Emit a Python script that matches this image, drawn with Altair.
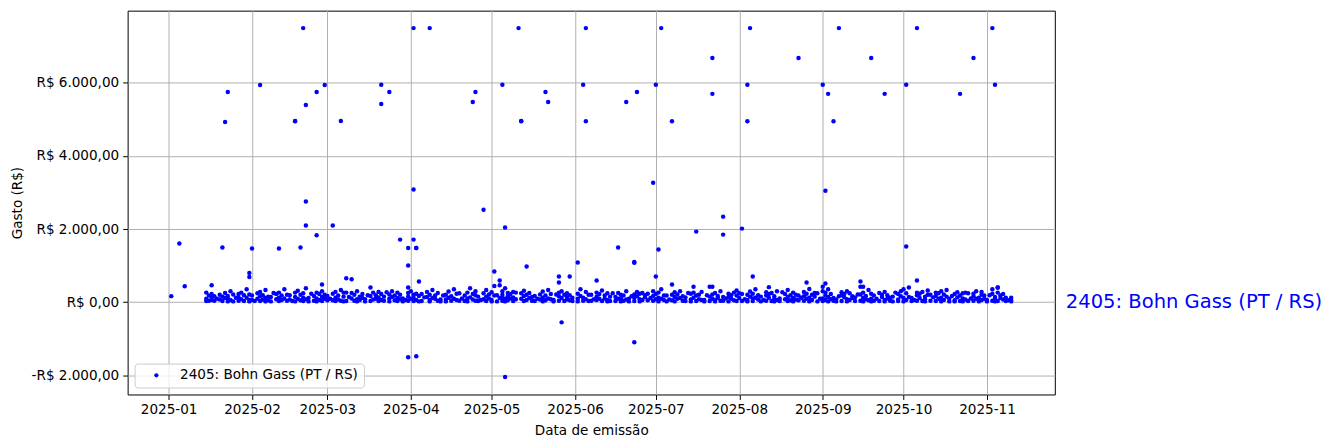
import altair as alt
import pandas as pd

SERIES = "2405: Bohn Gass (PT / RS)"

# Isolated / larger expenses: day of year (2025) and value (R$)
out_days = [2, 5, 7, 17, 21, 22, 23, 31, 31, 32, 35, 42, 48, 48, 50, 51, 52, 52, 52,
            56, 56, 58, 59, 62, 65, 67, 69, 80, 80, 83, 87, 90, 90, 90, 90, 92, 92, 92,
            93, 93, 93, 94, 98, 114, 115, 118, 122, 124, 124, 125, 126, 126, 131, 132, 132,
            134, 141, 142, 146, 146, 147, 150, 153, 155, 156, 156, 160, 168, 171, 174, 174,
            174, 175, 181, 182, 182, 183, 184, 188, 188, 196, 197, 203, 203, 203, 207, 207,
            214, 216, 216, 217, 218, 224, 235, 238, 244, 245, 245, 246, 248, 250, 258, 258,
            259, 262, 267, 275, 275, 279, 279, 295, 300, 307, 308, 309]
out_vals = [164, 1602, 437, 464, 1493, 4933, 5752, 800, 690, 1466, 5943, 1466, 4960, 4950, 1493, 7500, 2757, 2100, 5397,
            5750, 1829, 483, 5943, 2100, 4960, 655, 628, 5950, 5425, 5750, 1711, 1000, 1483, -1510, 400, 7500, 3085, 1711,
            1483, 1480, -1483, 565, 7500, 5480, 5750, 2530, 838, 592, 464, 5950, 2040, -2050, 7500, 4950, 4960,
            975, 5750, 5480, 700, 538, -554, 700, 1083, 5950, 7500, 4950, 592, 1493, 5480, 1100, 1080,
            -1100, 5750, 3267, 5950, 700, 1438, 7500, 4950, 483, 418, 1930, 6680, 5700, 418, 2340, 1848,
            2012, 5950, 4950, 7500, 700, 410, 6680, 538, 5950, 3050, 510, 5700, 4950, 7500, 565, 420,
            420, 6680, 5700, 5950, 1520, 7500, 592, 5700, 6680, 7500, 5950, 400]

# Everyday small expenses (dense band near zero), weekdays: day of year and values of that day
band_days = [15, 16, 17,
             20, 21, 22, 23, 24, 27, 28, 29, 30, 31,
             34, 35, 36, 37, 38, 41, 42, 43, 44, 45,
             48, 49, 50, 51, 52, 55, 56, 57, 58, 59,
             62, 63, 64, 65, 66, 69, 70, 71, 72, 73,
             76, 77, 78, 79, 80, 83, 84, 85, 86, 87,
             90, 91, 92, 93, 94, 97, 98, 99, 100, 101,
             104, 105, 106, 107, 108, 111, 112, 113, 114, 115,
             118, 119, 120, 121, 122, 125, 126, 127, 128, 129,
             132, 133, 134, 135, 136, 139, 140, 141, 142, 143,
             146, 147, 148, 149, 150, 153, 154, 155, 156, 157,
             160, 161, 162, 163, 164, 167, 168, 169, 170, 171,
             174, 175, 176, 177, 178, 181, 182, 183, 184, 185,
             188, 189, 190, 191, 192, 195, 196, 197, 198, 199,
             202, 203, 204, 205, 206, 209, 210, 211, 212, 213,
             216, 217, 218, 219, 220, 223, 224, 225, 226, 227,
             230, 231, 232, 233, 234, 237, 238, 239, 240, 241,
             244, 245, 246, 247, 248, 251, 252, 253, 254, 255,
             258, 259, 260, 261, 262, 265, 266, 267, 268, 269,
             272, 273, 274, 275, 276, 279, 280, 281, 282, 283,
             286, 287, 288, 289, 290, 293, 294, 295, 296, 297,
             300, 301, 302, 303, 304, 307, 308, 309, 310, 311,
             314]
band_vals = [[260, 90, 30], [180, 40], [120, 220, 60],
             [200, 70], [150, 30], [250, 110], [90, 20, 170], [300, 60],
             [130, 40, 220], [80, 260], [190, 30], [120, 350], [60, 210, 20],
             [240, 90], [160, 30, 280], [70, 190], [330, 110, 20], [150, 50],
             [220, 80], [120, 30, 260], [180, 60], [350, 100], [40, 200],
             [140, 20, 260], [90, 310], [200, 50], [120, 30, 240], [80, 380],
             [170, 40], [260, 100, 20], [60, 220], [140, 30, 300], [90, 200],
             [230, 50], [120, 30, 280], [180, 70], [40, 330], [150, 260, 20],
             [100, 250], [200, 40], [300, 80, 20], [150, 60], [220, 110],
             [170, 30, 400], [260, 70], [90, 190], [130, 30, 280], [60, 220],
             [210, 90, 20], [140, 300], [50, 180], [260, 110, 30], [80, 200],
             [150, 40, 250], [300, 90], [120, 30, 200], [230, 60], [170, 20],
             [140, 280], [60, 200, 20], [330, 110], [90, 180], [250, 40],
             [200, 70, 20], [120, 290], [160, 40], [350, 90], [60, 230],
             [180, 30], [260, 100, 20], [130, 380], [70, 220], [190, 40, 300],
             [240, 80], [150, 30, 330], [100, 210], [270, 60, 20], [180, 440],
             [300, 120, 40, 200], [380, 90, 20], [160, 250, 50], [220, 100], [130, 30, 280],
             [90, 240], [170, 30, 310], [60, 200], [250, 110], [140, 40],
             [210, 70], [120, 20, 290], [180, 50], [330, 100], [80, 220],
             [160, 40, 260], [110, 300], [200, 30], [140, 70, 240], [50, 190],
             [230, 90, 20], [170, 350], [120, 40], [280, 80], [200, 30],
             [150, 60, 260], [90, 220], [320, 30], [180, 100], [60, 240, 20],
             [140, 30], [250, 90], [100, 200, 20], [180, 40], [300, 70],
             [210, 30, 120], [160, 280], [80, 230, 20], [250, 60], [130, 190],
             [170, 40, 300], [220, 80], [120, 20, 260], [350, 90], [60, 180],
             [200, 50], [140, 20, 270], [90, 210], [300, 110], [160, 40],
             [230, 70, 20], [120, 260], [180, 30], [80, 200], [280, 60],
             [150, 30, 420], [210, 90], [60, 250, 20], [170, 110], [300, 40],
             [140, 20, 230], [90, 190], [260, 50], [180, 30, 320], [110, 240],
             [200, 60, 20], [150, 290], [100, 30, 230], [350, 120], [70, 190],
             [180, 40, 270], [120, 220], [250, 30], [90, 160, 20], [300, 60],
             [220, 80], [140, 30, 330], [190, 50], [260, 110, 20], [70, 200],
             [160, 40, 280], [230, 90], [120, 20, 360], [200, 60], [150, 250],
             [300, 100, 30, 420], [180, 60, 260], [140, 20, 350], [220, 80], [110, 40],
             [190, 30, 270], [130, 220], [80, 300, 20], [240, 60], [160, 110],
             [210, 40], [120, 20, 260], [170, 80], [330, 50], [90, 230, 20],
             [250, 30], [140, 200], [60, 280, 20], [190, 100], [120, 40],
             [220, 70, 30], [160, 300], [350, 110, 20], [240, 60], [140, 400],
             [190, 40, 260], [110, 230], [280, 30], [150, 80, 20], [200, 320],
             [170, 30, 260], [240, 90], [120, 20, 300], [210, 60], [150, 330],
             [220, 50, 20], [130, 270], [180, 30], [100, 240, 20], [260, 70],
             [160, 40, 230], [300, 90], [120, 20], [200, 60, 280], [90, 180],
             [230, 40, 350], [140, 90, 20], [260, 30, 400], [180, 110], [70, 220],
             [60, 20, 120]]

# Weekend small expenses
wk_days = [18, 19, 25, 26, 32, 33, 39, 40, 46, 47,
           53, 54, 60, 61, 67, 68, 74, 75, 81, 82,
           88, 89, 95, 96, 102, 103, 109, 110, 116, 117,
           123, 124, 130, 137, 138, 144, 145, 151, 158, 159,
           165, 166, 172, 173, 179, 180, 186, 187, 193, 194,
           200, 201, 207, 208, 214, 215, 221, 222, 228, 229,
           235, 236, 242, 243, 249, 250, 256, 257, 263, 264,
           270, 271, 277, 278, 284, 285, 291, 292, 298, 299,
           305, 306, 312, 313]
wk_vals = [[40, 160], [90], [20, 210], [120], [60, 180], [30], [140, 20], [250], [70, 190], [30],
           [110, 20], [230], [50, 170], [90], [30, 260], [140], [80, 20], [190], [40, 150], [270],
           [100, 20], [60], [30, 220], [130], [70, 20], [180], [40, 240], [100], [150, 30], [60],
           [20, 190], [110], [80, 260], [30, 170], [90], [60, 20], [210], [120, 30], [40, 200], [80],
           [30, 150], [240], [90, 20], [160], [50, 230], [110], [20, 180], [70], [130, 30], [250],
           [60, 20], [190], [40, 140], [100], [30, 220], [80], [150, 20], [60], [100, 30], [270],
           [50, 180], [120], [20, 240], [90], [70, 20], [160], [130, 30], [210], [40, 180], [90],
           [20, 150], [260], [110, 30], [60], [40, 200], [130], [90, 20], [170], [30, 240], [100],
           [60, 20], [190], [120, 30], [50]]

x_ticks = ["2025-01-01", "2025-02-01", "2025-03-01", "2025-04-01", "2025-05-01", "2025-06-01",
           "2025-07-01", "2025-08-01", "2025-09-01", "2025-10-01", "2025-11-01"]
y_ticks = [-2000, 0, 2000, 4000, 6000]

jan1 = pd.Timestamp("2025-01-01")


def iso(d):
    return (jan1 + pd.Timedelta(days=d - 1)).strftime("%Y-%m-%dT00:00:00Z")


rows = []
for d, v in zip(out_days, out_vals):
    rows.append({"data": iso(d), "valor": v, "serie": SERIES})
for days, vals in ((band_days, band_vals), (wk_days, wk_vals)):
    for d, vs in zip(days, vals):
        for v in vs:
            rows.append({"data": iso(d), "valor": v, "serie": SERIES})
df = pd.DataFrame(rows)
label_df = pd.DataFrame({"valor": [0], "texto": [SERIES]})


def dt(s, hours=0):
    t = pd.Timestamp(s)
    return alt.DateTime(year=t.year, month=t.month, date=t.day, hours=hours, utc=True)


FS = 13.6
y_label = ("(datum.value < 0 ? '-' : '') + 'R$ ' + "
           "replace(replace(replace(format(abs(datum.value), ',.2f'), ',', '#'), '.', ','), '#', '.')")

points = alt.Chart(df).mark_circle(size=20, opacity=1).encode(
    x=alt.X("data:T",
            scale=alt.Scale(type="utc", domain=[dt("2024-12-16", 19), dt("2025-11-26", 5)]),
            axis=alt.Axis(values=[dt(s) for s in x_ticks], format="%Y-%m", title="Data de emissão",
                          labelFontSize=FS, titleFontSize=FS, tickSize=5, labelPadding=3, titlePadding=8,
                          grid=True, gridColor="#b0b0b0", gridWidth=1, domain=False,
                          tickColor="black", labelColor="black", titleColor="black",
                          titleFontWeight="normal", labelFlush=False, labelOverlap=False)),
    y=alt.Y("valor:Q",
            scale=alt.Scale(domain=[-2528, 7978], nice=False, zero=False),
            axis=alt.Axis(values=y_ticks, labelExpr=y_label, title="Gasto (R$)",
                          labelFontSize=FS, titleFontSize=FS, tickSize=5, labelPadding=4, titlePadding=7,
                          grid=True, gridColor="#b0b0b0", gridWidth=1, domain=False,
                          tickColor="black", labelColor="black", titleColor="black",
                          titleFontWeight="normal", labelFlush=False, labelOverlap=False)),
    color=alt.Color("serie:N", scale=alt.Scale(domain=[SERIES], range=["#0000ff"]),
                    legend=alt.Legend(title=None, orient="none", legendX=7, legendY=354,
                                      fillColor="rgba(255,255,255,0.8)", strokeColor="#cccccc",
                                      cornerRadius=3, padding=5, labelFontSize=FS, labelColor="black",
                                      labelLimit=0, symbolType="circle", symbolSize=18,
                                      symbolStrokeWidth=0, symbolOffset=10, labelOffset=17)),
)

side_label = alt.Chart(label_df).mark_text(align="left", baseline="middle", fontSize=19.6,
                                           color="#0000ff").encode(
    x=alt.value(941),
    y=alt.Y("valor:Q"),
    text="texto:N",
)

chart = alt.layer(points, side_label).properties(
    width=930, height=385,
    padding={"left": 120, "top": 2, "right": 270, "bottom": 45},
    autosize=alt.AutoSizeParams(type="none"),
).configure(font="DejaVu Sans").configure_view(stroke="black", strokeWidth=1)

chart.save("out.html", embed_options={"renderer": "svg", "actions": False})
